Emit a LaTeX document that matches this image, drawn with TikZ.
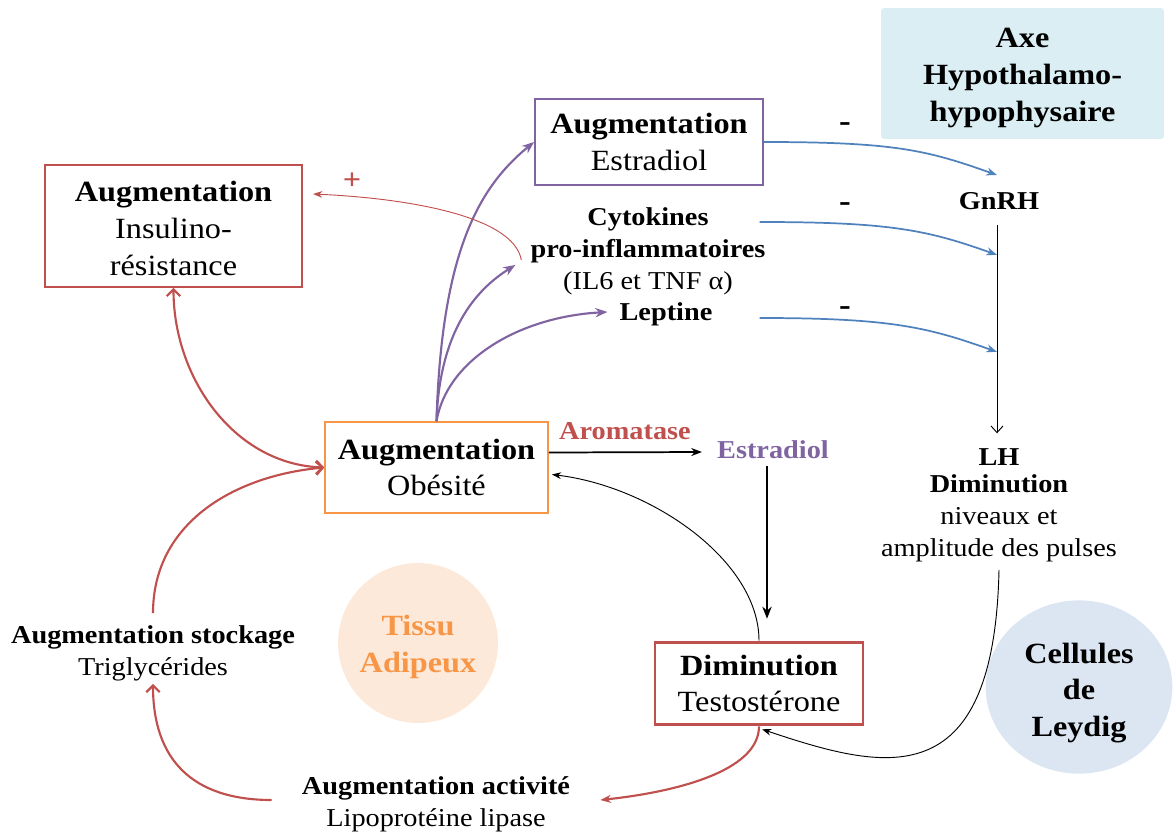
\documentclass[tikz,border=0pt]{standalone}
\usepackage{fontspec}
\setmainfont{Liberation Serif}[FakeStretch=1.1]
\usetikzlibrary{positioning,arrows.meta,calc,shapes.geometric}
\definecolor{RedA}{HTML}{C0504D}
\definecolor{PurpleA}{HTML}{8064A2}
\definecolor{OrangeA}{HTML}{F79646}
\definecolor{BlueA}{HTML}{4F81BD}
\definecolor{AxeFill}{HTML}{DAEEF3}
\definecolor{PeachFill}{HTML}{FDE9D9}
\definecolor{LeydigFill}{HTML}{DCE6F2}
\newcommand{\fbig}{\fontsize{22}{27.5}\selectfont}
\newcommand{\fmid}{\fontsize{19.3}{24}\selectfont}

\begin{document}
\begin{tikzpicture}[
  x=0.75pt,y=-0.75pt,
  box/.style={draw,line width=1.4pt,fill=white,align=center,font=\fbig,inner sep=0pt},
  txt/.style={align=center,font=\fmid,inner sep=0pt},
  hd/.style={txt,font=\fmid\bfseries},
  pu/.style={-{Stealth[length=9pt,width=7pt]},draw=PurpleA,line width=1.6pt},
  bl/.style={-{Stealth[length=8pt,width=6pt]},draw=BlueA,line width=1.3pt},
  rd/.style={-{Straight Barb[length=5pt,width=10pt]},draw=RedA,line width=1.6pt},
  rdd/.style={{Straight Barb[length=5pt,width=10pt]}-{Straight Barb[length=5pt,width=10pt]},draw=RedA,line width=1.6pt},
  rdf/.style={-{Stealth[length=8pt,width=6pt]},draw=RedA,line width=1.6pt},
  rdthin/.style={-{Stealth[length=7pt,width=5pt]},draw=RedA,line width=0.7pt},
  bk/.style={-{Stealth[length=8pt,width=6pt]},line width=1.3pt},
  bkt/.style={-{Stealth[length=9pt,width=7pt]},line width=1.8pt},
  lnk/.style={-{Stealth[length=7pt,width=5pt]},line width=0.7pt},
  gl/.style={-{Straight Barb[length=5pt,width=9pt]},line width=0.7pt},
]
\useasboundingbox (0,0) rectangle (1173,836);

\node[fill=AxeFill,rounded corners=2pt,minimum width=212pt,minimum height=98pt,
  inner sep=0pt,align=center,font=\fbig\bfseries] (axe) at (1022.5,73.5)
  {\rule{0pt}{21pt}Axe\\Hypothalamo-\\hypophysaire};
\node[circle,fill=PeachFill,minimum size=120pt,inner sep=0pt,align=center,
  font=\fbig\bfseries,text=OrangeA] (tissu) at (418,643) {\rule{0pt}{21pt}Tissu\\Adipeux};
\node[ellipse,fill=LeydigFill,minimum width=140pt,minimum height=130pt,inner sep=0pt,
  align=center,font=\fbig\bfseries] (leydig) at (1079,687) {\rule{0pt}{24pt}Cellules\\de\\Leydig};

\node[box,draw=RedA,minimum width=192.75pt,minimum height=91.5pt] (ins) at (173.5,226)
  {\rule{0pt}{19pt}\textbf{Augmentation}\\Insulino-\\résistance};
\node[box,draw=PurpleA,minimum width=171pt,minimum height=64.5pt] (estr) at (649,142)
  {\textbf{Augmentation}\\Estradiol};
\node[box,draw=OrangeA,minimum width=167pt,minimum height=68pt] (obe) at (436.5,467.5)
  {\textbf{Augmentation}\\Obésité};
\node[box,draw=RedA,line width=2.2pt,minimum width=156pt,minimum height=62pt] (tes) at (759,683.5)
  {\textbf{Diminution}\\Testostérone};

\node[txt] (cyto) at (648,251) {\textbf{Cytokines}\\\textbf{pro-inflammatoires}\\(IL6 et TNF α)};
\node[hd] (lep) at (666,314) {Leptine};
\node[hd] (gnrh) at (999,201) {GnRH};
\node[hd] (lh) at (999,457) {LH};
\node[txt] (dim) at (999,518) {\textbf{Diminution}\\niveaux et\\amplitude des pulses};
\node[hd,text=RedA] (aro) at (625,431) {Aromatase};
\node[hd,text=PurpleA] (estr2) at (773,450) {Estradiol};
\node[txt] (stock) at (153,653) {\textbf{Augmentation stockage}\\Triglycérides};
\node[txt] (act) at (436,804) {\textbf{Augmentation activité}\\Lipoprotéine lipase};

\node[hd,font=\fontsize{24}{24}\selectfont\bfseries] (m1) at (845,127) {-};
\node[hd,font=\fontsize{24}{24}\selectfont\bfseries] (m2) at (845,207) {-};
\node[hd,font=\fontsize{24}{24}\selectfont\bfseries] (m3) at (845,311) {-};
\node[hd,text=RedA,font=\fontsize{22}{22}\selectfont\bfseries] (plus) at (352,181) {+};

\draw[pu] (obe.north) .. controls +(5,-170) and +(-55,45) .. (estr.west);
\draw[pu] (obe.north) .. controls +(3,-90) and +(-40,25) .. ($(cyto.west)+(-15,14)$);
\draw[pu] (obe.north) .. controls +(10,-60) and +(-90,5) .. ($(lep.west)+(-12,-2)$);
\draw[rdthin] ($(cyto.west)+(-9,9)$) .. controls +(-8,-45) and +(90,4) .. ($(ins.east)+(10,-32)$);

\draw[rdd] (ins.south) .. controls +(0,90) and +(-90,-3) .. (obe.west);
\draw[rd] ($(stock.north)+(0,-12)$) .. controls +(0,-90) and +(-90,8) .. (obe.west);
\draw[rd] ($(act.west)+(-30,-4)$) .. controls +(-80,0) and +(0,75) .. ($(stock.south)+(0,3)$);
\draw[rdf] (tes.south) .. controls +(0,45) and +(75,-8) .. ($(act.east)+(30,-4)$);

\draw[bk] ($(obe.east)+(0,-15)$) -- ($(estr2.west)+(-15,2)$);
\draw[bkt] ($(estr2.south)+(-6,7)$) -- ($(tes.north)+(8,-22)$);
\draw[lnk] (tes.north) .. controls +(0,-80) and +(100,12) .. ($(obe.east)+(3,7)$);

\draw[bl] (estr.east) .. controls +(130,0) and +(-70,-25) .. ($(gnrh.north)+(-2,-17)$);
\draw[bl] ($(cyto.east)+(-6,-29)$) .. controls +(130,0) and +(-70,-25) .. ($(gnrh.south)+(-2,45)$);
\draw[bl] ($(lep.east)+(47,4)$) .. controls +(130,0) and +(-70,-25) .. ($(gnrh.south)+(-2,142)$);
\draw[gl] ($(gnrh.south)+(-2,15)$) -- ($(lh.north)+(-2,-15)$);
\draw[lnk] ($(dim.south)+(0,8)$) .. controls +(-5,230) and +(120,40) .. ($(tes.south)+(3,3)$);
\end{tikzpicture}
\end{document}
